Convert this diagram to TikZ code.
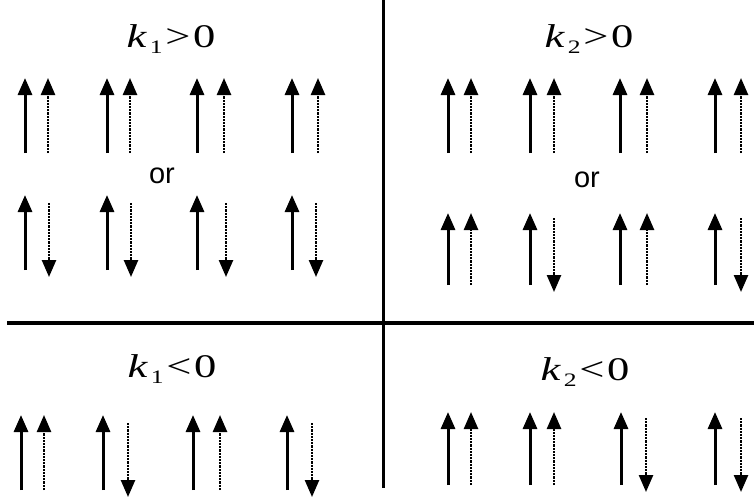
\documentclass[tikz,border=0pt]{standalone}
\usepackage{fontspec}
\setmainfont{Liberation Serif}
\setsansfont{Liberation Sans}
\usetikzlibrary{arrows.meta}

\begin{document}
\begin{tikzpicture}[
    x=1pt, y=-1pt,
    spin/.style={line width=3pt, -{Triangle[length=17pt, width=14pt]}},
    dspin/.style={line width=2.5pt, dash pattern=on 2.2pt off 1pt, -{Triangle[length=17pt, width=14pt]}},
    title/.style={anchor=base, font=\fontsize{33}{38}\selectfont},
    ortext/.style={anchor=base, font=\sffamily\fontsize{29}{34}\selectfont},
]
    \useasboundingbox (0,0) rectangle (754,501);

    % Frame lines
    \draw[line width=3pt] (383,0) -- (383,488);
    \draw[line width=3.5pt] (7,323) -- (754,323);

    % Labels
    \node[title] (tl) at (171,47) {\scalebox{1.35}[1]{\textit{k}\kern2pt\raisebox{-6pt}{\fontsize{19}{19}\selectfont 1}\kern2pt>\kern2pt0}};
    \node[title] (tr) at (589,47) {\scalebox{1.35}[1]{\textit{k}\kern2pt\raisebox{-6pt}{\fontsize{19}{19}\selectfont 2}\kern2pt>\kern2pt0}};
    \node[title] (bl) at (172,377) {\scalebox{1.35}[1]{\textit{k}\kern2pt\raisebox{-6pt}{\fontsize{19}{19}\selectfont 1}\kern2pt<\kern2pt0}};
    \node[title] (br) at (585,380) {\scalebox{1.35}[1]{\textit{k}\kern2pt\raisebox{-6pt}{\fontsize{19}{19}\selectfont 2}\kern2pt<\kern2pt0}};
    \node[ortext] (orl) at (162,183) {or};
    \node[ortext] (orr) at (587,187) {or};

    % Top left, first row
    \foreach \a/\b in {25/48, 107/130, 197/224, 292/318} {
        \draw[spin] (\a,153) -- (\a,78);
        \draw[dspin] (\b,153) -- (\b,78);
    }
    % Top left, second row
    \foreach \a/\b in {25/49, 107/131, 197/226, 292/316} {
        \draw[spin] (\a,270) -- (\a,195);
        \draw[dspin] (\b,203) -- (\b,277);
    }

    % Top right, first row
    \foreach \a/\b in {448/471, 530/554, 620/647, 715/741} {
        \draw[spin] (\a,153) -- (\a,78);
        \draw[dspin] (\b,153) -- (\b,78);
    }
    % Top right, second row
    \foreach \a/\b/\from/\to in {448/471/285/213, 530/554/218/292, 620/647/285/213, 715/741/218/292} {
        \draw[spin] (\a,285) -- (\a,213);
        \draw[dspin] (\b,\from) -- (\b,\to);
    }

    % Bottom left
    \foreach \a/\b/\from/\to in {21/44/490/415, 103/128/423/497, 193/220/490/415, 287/312/423/497} {
        \draw[spin] (\a,490) -- (\a,415);
        \draw[dspin] (\b,\from) -- (\b,\to);
    }

    % Bottom right
    \foreach \a/\b/\from/\to in {448/471/485/412, 530/554/485/412, 621/646/418/492, 715/741/418/492} {
        \draw[spin] (\a,485) -- (\a,412);
        \draw[dspin] (\b,\from) -- (\b,\to);
    }
\end{tikzpicture}
\end{document}
